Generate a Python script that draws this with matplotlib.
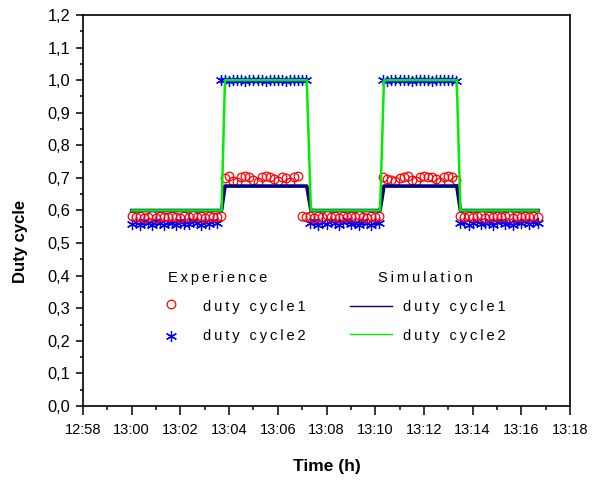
import matplotlib
matplotlib.use("Agg")
import matplotlib.pyplot as plt
from matplotlib.lines import Line2D
from matplotlib.ticker import MultipleLocator, FixedLocator

plt.rcParams['font.family'] = ['Liberation Sans', 'DejaVu Sans']

# ---------------- data ----------------
# time in minutes after 13:00, experimental samples every 10 s
sample_start = 0.0
sample_step = 1.0 / 6.0

exp_dc1_low1 = [0.582, 0.579, 0.584, 0.578, 0.581, 0.585, 0.577, 0.583, 0.580, 0.579, 0.584, 0.581,
                0.578, 0.583, 0.580, 0.585, 0.579, 0.582, 0.578, 0.583, 0.581, 0.579, 0.584]
exp_dc1_high1 = [0.700, 0.705, 0.692, 0.687, 0.703, 0.706, 0.704, 0.693, 0.688, 0.702, 0.706, 0.703,
                 0.697, 0.690, 0.704, 0.700, 0.686, 0.703, 0.705]
exp_dc1_low2 = [0.582, 0.580, 0.584, 0.578, 0.583, 0.581, 0.585, 0.579, 0.582, 0.578, 0.584, 0.580,
                0.583, 0.579, 0.585, 0.581, 0.578, 0.583, 0.580, 0.584]
exp_dc1_high2 = [0.703, 0.698, 0.694, 0.690, 0.701, 0.704, 0.705, 0.693, 0.691, 0.702, 0.706, 0.704,
                 0.703, 0.696, 0.689, 0.704, 0.705, 0.702, 0.695]
exp_dc1_low3 = [0.583, 0.580, 0.584, 0.579, 0.582, 0.585, 0.578, 0.583, 0.580, 0.584, 0.579, 0.582,
                0.585, 0.578, 0.583, 0.581, 0.584, 0.579, 0.582, 0.580]

exp_dc2_low1 = [0.560, 0.566, 0.555, 0.568, 0.562, 0.557, 0.569, 0.561, 0.556, 0.566, 0.563, 0.554,
                0.567, 0.560, 0.558, 0.569, 0.562, 0.556, 0.565, 0.559, 0.568, 0.561]
exp_dc2_high1 = [1.000, 1.002, 0.998, 1.001, 0.999, 1.002, 0.998, 1.000, 1.001, 0.999, 1.002, 0.998,
                 1.000, 1.001, 0.999, 1.002, 0.998, 1.000, 1.001, 0.999, 1.002, 1.000]
exp_dc2_low2 = [0.562, 0.567, 0.556, 0.564, 0.558, 0.569, 0.561, 0.555, 0.566, 0.572, 0.559, 0.563,
                0.557, 0.568, 0.561, 0.556, 0.566, 0.562]
exp_dc2_high2 = [1.000, 0.998, 1.002, 1.000, 0.999, 1.001, 1.002, 0.998, 1.000, 1.001, 0.999, 1.002,
                 0.998, 1.000, 1.001, 0.999, 1.002, 1.000, 0.998]
exp_dc2_low3 = [0.561, 0.566, 0.556, 0.563, 0.568, 0.558, 0.562, 0.567, 0.555, 0.564, 0.569, 0.559,
                0.563, 0.557, 0.566, 0.561, 0.568, 0.560, 0.565, 0.562]

exp_dc1 = exp_dc1_low1 + exp_dc1_high1 + exp_dc1_low2 + exp_dc1_high2 + exp_dc1_low3
exp_dc2 = exp_dc2_low1 + exp_dc2_high1 + exp_dc2_low2 + exp_dc2_high2 + exp_dc2_low3

sim_time = [0.0, 3.69, 3.83, 7.19, 7.36, 10.20, 10.36, 13.35, 13.50, 16.69]
sim_dc1 = [0.600, 0.600, 0.675, 0.675, 0.600, 0.600, 0.675, 0.675, 0.600, 0.600]
sim_dc2 = [0.600, 0.600, 1.000, 1.000, 0.600, 0.600, 1.000, 1.000, 0.600, 0.600]

x_ticks = [-2, 0, 2, 4, 6, 8, 10, 12, 14, 16, 18]
x_tick_labels = ["12:58", "13:00", "13:02", "13:04", "13:06", "13:08",
                 "13:10", "13:12", "13:14", "13:16", "13:18"]
y_ticks = [0.0, 0.1, 0.2, 0.3, 0.4, 0.5, 0.6, 0.7, 0.8, 0.9, 1.0, 1.1, 1.2]
y_tick_labels = ["0,0", "0,1", "0,2", "0,3", "0,4", "0,5", "0,6",
                 "0,7", "0,8", "0,9", "1,0", "1,1", "1,2"]

# ---------------- figure ----------------
W, H = 596, 482
fig = plt.figure(figsize=(W / 100, H / 100), dpi=100)
L, R, T, B = 83, 570, 15, 406
ax = fig.add_axes([L / W, 1 - B / H, (R - L) / W, (B - T) / H])

t1 = [sample_start + i * sample_step for i in range(len(exp_dc1))]
t2 = [sample_start + i * sample_step for i in range(len(exp_dc2))]

navy = "#000080"
green = "#00ee00"
red = "#ff0000"
blue = "#0000ff"
star = (6, 2, 0)

ax.plot(t2, exp_dc2, linestyle="none", marker=star, markersize=8, markeredgewidth=0.9,
        color=blue, zorder=2)
ax.plot(t1, exp_dc1, linestyle="none", marker="o", markersize=6.2, markerfacecolor="none",
        markeredgewidth=0.9, color=red, zorder=3)
ax.plot(sim_time, sim_dc1, color=navy, linewidth=2.6, zorder=4)
ax.plot(sim_time, sim_dc2, color=green, linewidth=1.8, zorder=5)

ax.set_xlim(-2, 18)
ax.set_ylim(0, 1.2)
ax.xaxis.set_major_locator(FixedLocator(x_ticks))
ax.set_xticklabels(x_tick_labels)
ax.xaxis.set_minor_locator(MultipleLocator(1))
ax.yaxis.set_major_locator(FixedLocator(y_ticks))
ax.set_yticklabels(y_tick_labels)
ax.yaxis.set_minor_locator(MultipleLocator(0.05))
ax.tick_params(axis="x", which="major", direction="out", length=6.5, width=1.1, color="black")
ax.tick_params(axis="x", which="minor", direction="out", length=3.2, width=1.1, color="black")
ax.tick_params(axis="y", which="major", direction="out", length=5.3, width=1.1, color="black")
ax.tick_params(axis="y", which="minor", direction="out", length=2.4, width=1.1, color="black")
ax.tick_params(axis="x", labelsize=10.5, pad=6)
ax.tick_params(axis="y", labelsize=11.8, pad=4)
ax.tick_params(top=False, right=False, which="both")
for s in ax.spines.values():
    s.set_linewidth(1.2)
    s.set_color("black")

ts = "\u2009"
def spaced(s):
    return ts.join(list(s))

def fx(px):
    return px / W

def fy(py):
    return 1 - py / H

# axis titles
fig.text(fx(327), fy(466), "Time (h)", ha="center", va="center",
         fontsize=12.5, fontweight="bold")
fig.text(fx(21), fy(241), "Duty cycle", ha="center", va="center",
         rotation=90, fontsize=12, fontweight="bold")

# custom legend
fs = 10.5
fig.text(fx(168), fy(278), spaced("Experience"), ha="left", va="center", fontsize=fs)
fig.text(fx(378), fy(278), spaced("Simulation"), ha="left", va="center", fontsize=fs)
fig.text(fx(203), fy(307), spaced("duty cycle1"), ha="left", va="center", fontsize=fs)
fig.text(fx(203), fy(336), spaced("duty cycle2"), ha="left", va="center", fontsize=fs)
fig.text(fx(403), fy(307), spaced("duty cycle1"), ha="left", va="center", fontsize=fs)
fig.text(fx(403), fy(336), spaced("duty cycle2"), ha="left", va="center", fontsize=fs)

fig.add_artist(Line2D([fx(171)], [fy(304)], linestyle="none", marker="o", markersize=6.2,
                      markerfacecolor="none", markeredgewidth=0.9, color=red,
                      transform=fig.transFigure))
fig.add_artist(Line2D([fx(171)], [fy(336)], linestyle="none", marker=star, markersize=8,
                      markeredgewidth=0.9, color=blue, transform=fig.transFigure))
fig.add_artist(Line2D([fx(350), fx(392)], [fy(306), fy(306)], color=navy, linewidth=1.0,
                      transform=fig.transFigure))
fig.add_artist(Line2D([fx(350), fx(392)], [fy(334), fy(334)], color=green, linewidth=1.0,
                      transform=fig.transFigure))

fig.savefig("out.png", dpi=100)
